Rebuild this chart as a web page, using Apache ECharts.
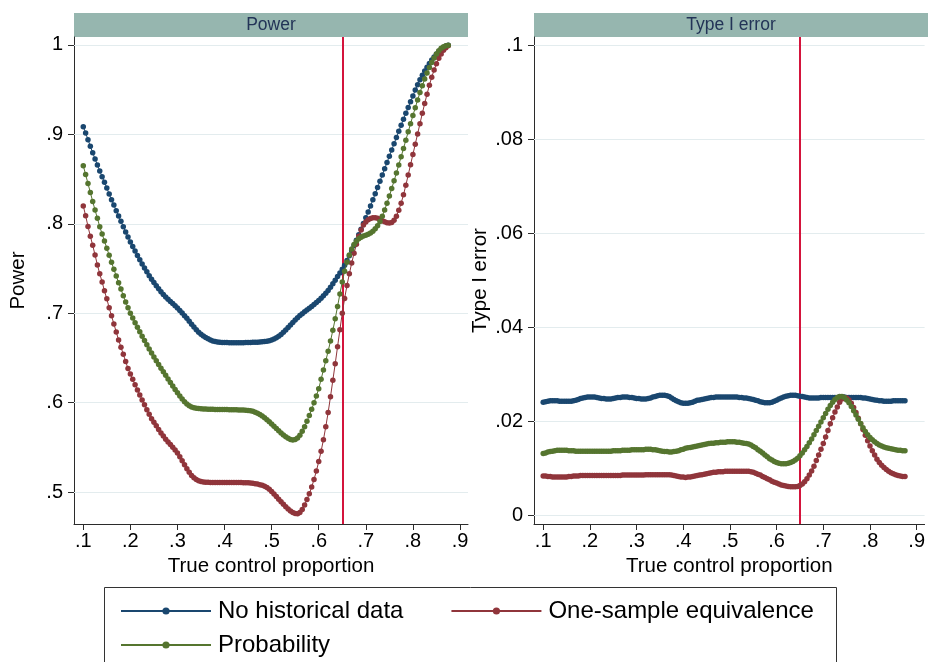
<!DOCTYPE html>
<html>
<head>
<meta charset="utf-8">
<script src="https://cdn.jsdelivr.net/npm/echarts@6/dist/echarts.min.js"></script>
<style>
  html, body { margin: 0; padding: 0; background: #ffffff; }
  #chart { width: 928px; height: 662px; }
</style>
</head>
<body>
<div id="chart"></div>
<script>
// True control proportion (x) at which each scenario was evaluated
const controlProportion = [
  0.100,0.105,0.110,0.115,0.120,0.125,0.130,0.135,0.140,0.145,
  0.150,0.155,0.160,0.165,0.170,0.175,0.180,0.185,0.190,0.195,
  0.200,0.205,0.210,0.215,0.220,0.225,0.230,0.235,0.240,0.245,
  0.250,0.255,0.260,0.265,0.270,0.275,0.280,0.285,0.290,0.295,
  0.300,0.305,0.310,0.315,0.320,0.325,0.330,0.335,0.340,0.345,
  0.350,0.355,0.360,0.365,0.370,0.375,0.380,0.385,0.390,0.395,
  0.400,0.405,0.410,0.415,0.420,0.425,0.430,0.435,0.440,0.445,
  0.450,0.455,0.460,0.465,0.470,0.475,0.480,0.485,0.490,0.495,
  0.500,0.505,0.510,0.515,0.520,0.525,0.530,0.535,0.540,0.545,
  0.550,0.555,0.560,0.565,0.570,0.575,0.580,0.585,0.590,0.595,
  0.600,0.605,0.610,0.615,0.620,0.625,0.630,0.635,0.640,0.645,
  0.650,0.655,0.660,0.665,0.670,0.675,0.680,0.685,0.690,0.695,
  0.700,0.705,0.710,0.715,0.720,0.725,0.730,0.735,0.740,0.745,
  0.750,0.755,0.760,0.765,0.770,0.775,0.780,0.785,0.790,0.795,
  0.800,0.805,0.810,0.815,0.820,0.825,0.830,0.835,0.840,0.845,
  0.850,0.855,0.860,0.865,0.870,0.875
];

// Power
const powerNoHistorical = [
  0.9086,0.9016,0.8941,0.8867,0.8795,0.8725,0.8658,0.8591,0.8527,0.8464,
  0.8400,0.8333,0.8270,0.8210,0.8146,0.8087,0.8028,0.7967,0.7908,0.7852,
  0.7797,0.7745,0.7695,0.7645,0.7597,0.7550,0.7505,0.7462,0.7420,0.7380,
  0.7342,0.7306,0.7272,0.7240,0.7210,0.7182,0.7156,0.7131,0.7107,0.7083,
  0.7058,0.7031,0.7001,0.6972,0.6942,0.6910,0.6877,0.6845,0.6815,0.6788,
  0.6765,0.6745,0.6728,0.6713,0.6700,0.6690,0.6683,0.6678,0.6675,0.6673,
  0.6672,0.6671,0.6670,0.6670,0.6670,0.6670,0.6670,0.6670,0.6670,0.6671,
  0.6672,0.6673,0.6674,0.6675,0.6676,0.6678,0.6680,0.6683,0.6687,0.6693,
  0.6700,0.6710,0.6724,0.6741,0.6762,0.6786,0.6812,0.6840,0.6868,0.6896,
  0.6923,0.6949,0.6973,0.6995,0.7016,0.7036,0.7056,0.7076,0.7097,0.7119,
  0.7142,0.7167,0.7194,0.7223,0.7255,0.7290,0.7328,0.7368,0.7410,0.7450,
  0.7490,0.7536,0.7588,0.7642,0.7698,0.7756,0.7815,0.7876,0.7938,0.8002,
  0.8067,0.8133,0.8200,0.8268,0.8337,0.8406,0.8476,0.8546,0.8616,0.8686,
  0.8756,0.8826,0.8896,0.8965,0.9034,0.9102,0.9170,0.9235,0.9300,0.9365,
  0.9430,0.9495,0.9555,0.9610,0.9660,0.9708,0.9752,0.9793,0.9831,0.9866,
  0.9898,0.9927,0.9952,0.9972,0.9988,0.9998
];
const powerEquivalence = [
  0.8200,0.8090,0.7970,0.7860,0.7760,0.7650,0.7540,0.7440,0.7350,0.7250,
  0.7160,0.7060,0.6970,0.6880,0.6790,0.6700,0.6620,0.6540,0.6460,0.6380,
  0.6320,0.6260,0.6200,0.6140,0.6085,0.6030,0.5975,0.5920,0.5870,0.5820,
  0.5780,0.5740,0.5700,0.5660,0.5625,0.5590,0.5560,0.5530,0.5500,0.5470,
  0.5435,0.5395,0.5350,0.5305,0.5260,0.5220,0.5185,0.5160,0.5140,0.5125,
  0.5117,0.5112,0.5110,0.5108,0.5107,0.5107,0.5107,0.5107,0.5107,0.5107,
  0.5107,0.5106,0.5106,0.5106,0.5106,0.5105,0.5105,0.5105,0.5104,0.5103,
  0.5102,0.5100,0.5097,0.5093,0.5088,0.5082,0.5075,0.5065,0.5050,0.5030,
  0.5005,0.4978,0.4950,0.4920,0.4890,0.4862,0.4835,0.4810,0.4788,0.4770,
  0.4760,0.4758,0.4772,0.4805,0.4855,0.4915,0.4980,0.5055,0.5140,0.5235,
  0.5340,0.5455,0.5585,0.5730,0.5890,0.6065,0.6250,0.6435,0.6625,0.6815,
  0.7000,0.7165,0.7310,0.7440,0.7560,0.7670,0.7770,0.7860,0.7930,0.7985,
  0.8020,0.8045,0.8060,0.8068,0.8068,0.8062,0.8050,0.8035,0.8022,0.8012,
  0.8008,0.8015,0.8040,0.8085,0.8150,0.8230,0.8325,0.8430,0.8545,0.8660,
  0.8775,0.8890,0.9005,0.9120,0.9235,0.9345,0.9450,0.9550,0.9640,0.9720,
  0.9790,0.9850,0.9900,0.9940,0.9970,0.9990
];
const powerProbability = [
  0.8650,0.8550,0.8450,0.8350,0.8250,0.8154,0.8061,0.7968,0.7886,0.7808,
  0.7726,0.7648,0.7569,0.7491,0.7416,0.7341,0.7271,0.7196,0.7125,0.7062,
  0.7000,0.6945,0.6893,0.6842,0.6792,0.6743,0.6695,0.6648,0.6600,0.6555,
  0.6510,0.6468,0.6425,0.6385,0.6345,0.6305,0.6265,0.6225,0.6185,0.6147,
  0.6110,0.6075,0.6040,0.6008,0.5983,0.5965,0.5952,0.5943,0.5937,0.5933,
  0.5930,0.5928,0.5927,0.5926,0.5925,0.5925,0.5924,0.5924,0.5923,0.5923,
  0.5922,0.5922,0.5921,0.5921,0.5920,0.5919,0.5918,0.5917,0.5916,0.5914,
  0.5912,0.5908,0.5902,0.5893,0.5882,0.5868,0.5850,0.5830,0.5808,0.5785,
  0.5760,0.5735,0.5710,0.5685,0.5660,0.5637,0.5617,0.5600,0.5588,0.5582,
  0.5588,0.5605,0.5635,0.5678,0.5730,0.5790,0.5855,0.5925,0.5998,0.6075,
  0.6155,0.6260,0.6365,0.6468,0.6575,0.6688,0.6808,0.6938,0.7075,0.7215,
  0.7350,0.7470,0.7570,0.7652,0.7718,0.7768,0.7805,0.7832,0.7850,0.7863,
  0.7873,0.7884,0.7898,0.7917,0.7943,0.7978,0.8025,0.8085,0.8155,0.8230,
  0.8310,0.8395,0.8480,0.8568,0.8658,0.8750,0.8842,0.8935,0.9028,0.9120,
  0.9210,0.9298,0.9385,0.9468,0.9545,0.9618,0.9685,0.9748,0.9805,0.9855,
  0.9898,0.9935,0.9962,0.9980,0.9992,0.9998
];

// Type I error
const errorNoHistorical = [
  0.0240,0.0241,0.0242,0.0243,0.0243,0.0243,0.0243,0.0242,0.0242,0.0242,
  0.0242,0.0242,0.0242,0.0243,0.0244,0.0246,0.0248,0.0249,0.0250,0.0251,
  0.0251,0.0251,0.0251,0.0250,0.0249,0.0248,0.0248,0.0247,0.0247,0.0247,
  0.0248,0.0249,0.0250,0.0250,0.0251,0.0251,0.0251,0.0250,0.0250,0.0249,
  0.0248,0.0248,0.0247,0.0247,0.0247,0.0248,0.0249,0.0251,0.0252,0.0254,
  0.0255,0.0255,0.0255,0.0254,0.0252,0.0249,0.0246,0.0243,0.0241,0.0239,
  0.0238,0.0238,0.0238,0.0239,0.0240,0.0242,0.0244,0.0245,0.0246,0.0247,
  0.0248,0.0249,0.0250,0.0250,0.0251,0.0251,0.0251,0.0251,0.0251,0.0251,
  0.0251,0.0251,0.0251,0.0251,0.0250,0.0250,0.0249,0.0249,0.0248,0.0247,
  0.0246,0.0244,0.0243,0.0241,0.0240,0.0239,0.0239,0.0239,0.0240,0.0242,
  0.0244,0.0247,0.0249,0.0251,0.0253,0.0254,0.0255,0.0255,0.0255,0.0254,
  0.0253,0.0252,0.0251,0.0250,0.0249,0.0249,0.0249,0.0249,0.0249,0.0250,
  0.0250,0.0250,0.0250,0.0250,0.0250,0.0250,0.0250,0.0251,0.0251,0.0251,
  0.0250,0.0250,0.0250,0.0250,0.0250,0.0250,0.0250,0.0249,0.0249,0.0248,
  0.0247,0.0246,0.0245,0.0244,0.0243,0.0243,0.0242,0.0242,0.0242,0.0242,
  0.0243,0.0243,0.0243,0.0243,0.0243,0.0243
];
const errorEquivalence = [
  0.0083,0.0083,0.0082,0.0082,0.0081,0.0081,0.0081,0.0081,0.0081,0.0081,
  0.0081,0.0082,0.0082,0.0083,0.0083,0.0083,0.0084,0.0084,0.0084,0.0084,
  0.0084,0.0084,0.0084,0.0084,0.0084,0.0084,0.0084,0.0084,0.0084,0.0084,
  0.0084,0.0084,0.0084,0.0084,0.0085,0.0085,0.0085,0.0085,0.0085,0.0085,
  0.0085,0.0085,0.0085,0.0085,0.0086,0.0086,0.0086,0.0086,0.0086,0.0086,
  0.0086,0.0086,0.0086,0.0086,0.0086,0.0085,0.0084,0.0083,0.0082,0.0081,
  0.0081,0.0080,0.0081,0.0081,0.0082,0.0083,0.0084,0.0085,0.0086,0.0087,
  0.0088,0.0089,0.0090,0.0091,0.0091,0.0092,0.0092,0.0092,0.0093,0.0093,
  0.0093,0.0093,0.0093,0.0093,0.0093,0.0093,0.0093,0.0093,0.0093,0.0092,
  0.0091,0.0089,0.0087,0.0085,0.0082,0.0080,0.0077,0.0075,0.0072,0.0070,
  0.0068,0.0066,0.0064,0.0063,0.0062,0.0061,0.0060,0.0060,0.0060,0.0061,
  0.0063,0.0066,0.0071,0.0077,0.0085,0.0094,0.0104,0.0116,0.0128,0.0140,
  0.0152,0.0166,0.0180,0.0194,0.0207,0.0219,0.0230,0.0240,0.0247,0.0250,
  0.0249,0.0245,0.0238,0.0229,0.0218,0.0206,0.0194,0.0182,0.0170,0.0158,
  0.0147,0.0137,0.0128,0.0119,0.0112,0.0106,0.0101,0.0097,0.0093,0.0090,
  0.0088,0.0086,0.0084,0.0083,0.0082,0.0082
];
const errorProbability = [
  0.0131,0.0132,0.0134,0.0135,0.0136,0.0137,0.0138,0.0138,0.0138,0.0138,
  0.0138,0.0137,0.0137,0.0137,0.0136,0.0136,0.0136,0.0136,0.0136,0.0136,
  0.0136,0.0136,0.0136,0.0136,0.0136,0.0136,0.0136,0.0136,0.0136,0.0136,
  0.0137,0.0137,0.0137,0.0137,0.0138,0.0138,0.0138,0.0138,0.0139,0.0139,
  0.0139,0.0139,0.0139,0.0139,0.0140,0.0140,0.0140,0.0139,0.0139,0.0138,
  0.0137,0.0136,0.0135,0.0135,0.0134,0.0134,0.0135,0.0136,0.0137,0.0139,
  0.0140,0.0142,0.0143,0.0144,0.0145,0.0146,0.0147,0.0148,0.0149,0.0150,
  0.0151,0.0152,0.0153,0.0153,0.0154,0.0154,0.0155,0.0155,0.0155,0.0156,
  0.0156,0.0156,0.0156,0.0155,0.0155,0.0154,0.0153,0.0152,0.0151,0.0149,
  0.0146,0.0143,0.0139,0.0136,0.0132,0.0128,0.0124,0.0120,0.0117,0.0114,
  0.0112,0.0110,0.0109,0.0109,0.0109,0.0110,0.0112,0.0114,0.0117,0.0121,
  0.0126,0.0132,0.0139,0.0146,0.0154,0.0162,0.0171,0.0180,0.0189,0.0198,
  0.0207,0.0216,0.0225,0.0233,0.0240,0.0246,0.0250,0.0252,0.0252,0.0250,
  0.0245,0.0239,0.0231,0.0222,0.0213,0.0204,0.0195,0.0186,0.0178,0.0171,
  0.0165,0.0160,0.0156,0.0152,0.0149,0.0147,0.0145,0.0143,0.0142,0.0141,
  0.0140,0.0139,0.0138,0.0138,0.0137,0.0137
];

// Tick labels and reference value
const xTicks = [0.1, 0.2, 0.3, 0.4, 0.5, 0.6, 0.7, 0.8, 0.9];
const powerTicks = [0.5, 0.6, 0.7, 0.8, 0.9, 1];
const errorTicks = [0, 0.02, 0.04, 0.06, 0.08, 0.1];
const designControl = 0.65;

const seriesNames = ['No historical data', 'One-sample equivalence', 'Probability'];
const panelTitles = ['Power', 'Type I error'];

// ---------- styling ----------
const FONT = '"Liberation Sans", Arial, sans-serif';
const COLORS = ['#1a476f', '#90353b', '#55752f'];
const AXIS_COLOR = '#2b2b2b';
const GRID_COLOR = '#e3ecee';
const REF_COLOR = '#d4143c';
const STRIP_COLOR = '#96b6af';
const STRIP_TEXT = '#233457';

const PLOT_TOP = 37, PLOT_H = 487, PLOT_W = 394;
const PANEL_LEFT = [74, 534];

function tickText(v) {
  const s = String(parseFloat(Number(v).toFixed(3)));
  return s.replace(/^0\./, '.').replace(/^-0\./, '-.');
}

const chart = echarts.init(document.getElementById('chart'), null, { renderer: 'canvas' });

const panels = [
  { ticks: powerTicks, min: 0.4642, max: 1.0089, name: 'Power', nameGap: 45,
    values: [powerNoHistorical, powerEquivalence, powerProbability] },
  { ticks: errorTicks, min: -0.0019, max: 0.1017, name: 'Type I error', nameGap: 42,
    values: [errorNoHistorical, errorEquivalence, errorProbability] }
];

const grids = [], xAxes = [], yAxes = [], series = [], graphics = [];

panels.forEach((p, k) => {
  grids.push({ left: PANEL_LEFT[k], top: PLOT_TOP, width: PLOT_W, height: PLOT_H, containLabel: false });

  xAxes.push({
    type: 'value', gridIndex: k, min: 0.0803, max: 0.917,
    name: 'True control proportion', nameLocation: 'middle', nameGap: 28,
    nameTextStyle: { fontFamily: FONT, fontSize: 20.5, color: '#000' },
    axisLine: { show: true, onZero: false, lineStyle: { color: AXIS_COLOR, width: 1 } },
    axisTick: { show: true, length: 6, customValues: xTicks, lineStyle: { color: AXIS_COLOR } },
    axisLabel: { customValues: xTicks, formatter: tickText, margin: 7,
                 fontFamily: FONT, fontSize: 20, color: '#000' },
    splitLine: { show: false }
  });

  yAxes.push({
    type: 'value', gridIndex: k, min: p.min, max: p.max,
    name: p.name, nameLocation: 'middle', nameGap: p.nameGap, nameRotate: 90,
    nameTextStyle: { fontFamily: FONT, fontSize: 20.5, color: '#000' },
    axisLine: { show: true, onZero: false, lineStyle: { color: AXIS_COLOR, width: 1 } },
    axisTick: { show: true, length: 6, customValues: p.ticks, lineStyle: { color: AXIS_COLOR } },
    axisLabel: { customValues: p.ticks, formatter: tickText, margin: 11,
                 fontFamily: FONT, fontSize: 20, color: '#000' },
    splitLine: { show: false }
  });

  // horizontal grid lines and the vertical reference line, kept beneath the curves
  series.push({
    type: 'line', xAxisIndex: k, yAxisIndex: k, data: [], silent: true, z: 1,
    markLine: {
      z: 1, silent: true, symbol: ['none', 'none'], label: { show: false }, animation: false,
      data: p.ticks.map(t => ({ yAxis: t, lineStyle: { color: GRID_COLOR, width: 1, type: 'solid' } }))
        .concat([{ xAxis: designControl, lineStyle: { color: REF_COLOR, width: 2, type: 'solid' } }])
    }
  });

  p.values.forEach((vals, j) => {
    series.push({
      name: seriesNames[j], type: 'line', xAxisIndex: k, yAxisIndex: k, z: 3 + j,
      data: controlProportion.map((x, i) => [x, vals[i]]),
      symbol: 'circle', symbolSize: 5.5, showSymbol: true, showAllSymbol: true,
      itemStyle: { color: COLORS[j] },
      lineStyle: { color: COLORS[j], width: 1 },
      emphasis: { disabled: true },
      animation: false
    });
  });

  // panel header strip
  graphics.push({
    type: 'rect', shape: { x: PANEL_LEFT[k], y: 13, width: PLOT_W, height: 24 },
    style: { fill: STRIP_COLOR }, silent: true
  });
  graphics.push({
    type: 'text', x: PANEL_LEFT[k] + PLOT_W / 2, y: 25, silent: true,
    style: { text: panelTitles[k], align: 'center', verticalAlign: 'middle',
             font: '17.5px ' + FONT, fill: STRIP_TEXT }
  });
});

// legend frame
graphics.push({
  type: 'rect', shape: { x: 104.5, y: 587.5, width: 732, height: 90 },
  style: { fill: 'none', stroke: '#333', lineWidth: 1 }, silent: true
});

const legendCommon = {
  orient: 'horizontal', left: 115, itemWidth: 90, itemHeight: 9, itemGap: 47,
  selectedMode: false,
  lineStyle: { width: 2 },
  textStyle: { fontFamily: FONT, fontSize: 24, color: '#000', padding: [0, 0, 0, 2], lineHeight: 26 }
};

chart.setOption({
  backgroundColor: '#ffffff',
  animation: false,
  grid: grids,
  xAxis: xAxes,
  yAxis: yAxes,
  series: series,
  graphic: graphics,
  legend: [
    Object.assign({}, legendCommon, { top: 593, data: [seriesNames[0], seriesNames[1]] }),
    Object.assign({}, legendCommon, { top: 627, data: [seriesNames[2]] })
  ]
});
</script>
</body>
</html>
